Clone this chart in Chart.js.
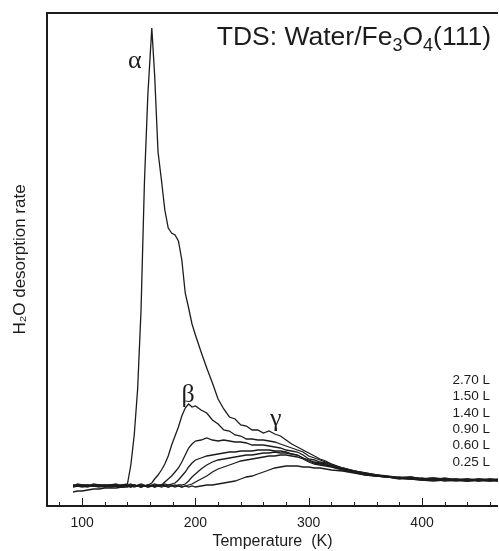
<!DOCTYPE html>
<html>
<head>
<meta charset="utf-8">
<script src="https://cdn.jsdelivr.net/npm/chart.js@4"></script>
<style>
  html, body { margin: 0; padding: 0; background: #fff; }
  canvas { display: block; }
</style>
</head>
<body>
<canvas id="tdsChart" width="499" height="551"></canvas>
<script>
// temperature grid (K), shared by all traces
const temps = [92, 96, 100, 105, 110, 115, 120, 125, 130, 135,
    140, 143, 146, 149, 152, 155, 158, 161.5,
    164, 167, 170, 173, 176, 179, 182, 185, 188, 191, 194, 197, 200,
    205, 210, 215, 220, 225, 230, 235, 240, 245, 250, 255, 260, 265, 270, 275, 280, 285, 290, 295, 300, 305, 310, 315, 320,
    330, 340, 350, 360, 370, 380, 390, 400, 410, 420, 430, 440, 450, 460, 467];

// desorption rate (arb. units), one array per trace, highest dose first
const trace1 = [20, 21, 20, 21, 20, 21, 20, 21, 20, 21,
    22, 41, 71, 117, 196, 324, 411, 478,
    431, 354, 326, 296, 278, 273, 271, 265, 246, 213, 198, 182, 171,
    154, 138, 123, 107, 97, 89, 87, 81, 80, 76, 76, 73, 75, 72, 70, 66, 62, 59, 56, 53, 50, 47, 45, 42,
    38, 35, 33, 31, 30, 28, 29, 27, 28, 26, 27, 26, 27, 26, 27];
const trace2 = [21, 20, 21, 21, 20, 21, 21, 20, 21, 20,
    21, 20, 21, 20, 21, 20, 21, 23,
    27, 31, 36, 42, 50, 61, 70, 79, 90, 98, 102, 99, 100,
    96, 93, 86, 82, 76, 75, 71, 70, 67, 67, 66, 66, 65, 64, 62, 60, 58, 56, 54, 50, 48, 46, 44, 42,
    38, 35, 33, 31, 29, 29, 28, 27, 28, 27, 26, 27, 26, 27, 26];
const trace3 = [19, 20, 19, 20, 20, 19, 20, 19, 20, 19,
    20, 19, 20, 20, 19, 20, 19, 20,
    20, 21, 21, 24, 27, 30, 34, 38, 44, 51, 58, 62, 65,
    66, 68, 66, 65, 66, 65, 64, 64, 63, 61, 61, 61, 60, 59, 58, 56, 55, 54, 51, 47, 46, 44, 43, 41,
    37, 35, 32, 30, 29, 28, 29, 27, 26, 28, 26, 27, 25, 27, 26];
const trace4 = [20, 22, 21, 20, 22, 21, 20, 21, 22, 20,
    21, 22, 20, 21, 22, 21, 20, 21,
    22, 21, 20, 22, 21, 22, 23, 26, 30, 34, 39, 43, 46,
    48, 50, 51, 52, 53, 54, 54, 55, 55, 55, 56, 56, 56, 55, 55, 54, 52, 51, 48, 46, 44, 43, 42, 40,
    37, 34, 32, 30, 29, 28, 27, 28, 26, 27, 26, 25, 27, 26, 25];
const trace5 = [21, 20, 21, 20, 21, 20, 21, 21, 20, 21,
    20, 21, 21, 20, 21, 20, 21, 20,
    21, 20, 21, 20, 21, 21, 20, 21, 21, 22, 25, 29, 32,
    37, 41, 44, 46, 47, 48, 49, 50, 51, 51, 52, 53, 53, 54, 53, 53, 52, 51, 48, 45, 43, 42, 41, 40,
    37, 34, 32, 31, 29, 28, 27, 26, 27, 26, 27, 25, 26, 25, 26];
const trace6 = [19, 21, 20, 19, 21, 20, 19, 20, 21, 19,
    20, 19, 21, 20, 19, 20, 21, 20,
    19, 20, 21, 20, 19, 20, 21, 20, 19, 20, 21, 22, 24,
    27, 30, 34, 37, 39, 41, 43, 45, 46, 47, 48, 49, 50, 50, 51, 51, 50, 49, 47, 44, 42, 41, 40, 39,
    36, 34, 31, 30, 29, 27, 28, 26, 25, 26, 25, 26, 25, 26, 25];
const trace7 = [14, 15, 15, 16, 17, 17, 18, 18, 18, 19,
    19, 20, 19, 20, 19, 20, 19, 20,
    19, 20, 19, 20, 19, 20, 19, 20, 19, 20, 19, 20, 19,
    20, 21, 21, 22, 23, 24, 25, 27, 29, 30, 32, 34, 36, 38, 39, 40, 40, 40, 39, 39, 38, 38, 37, 36,
    35, 33, 31, 30, 29, 28, 27, 26, 27, 25, 26, 25, 26, 25, 26];

const doses = ['2.70 L', '1.50 L', '1.40 L', '0.90 L', '0.60 L', '0.25 L'];
const tempTicks = [80, 100, 120, 140, 160, 180, 200, 220, 240, 260, 280, 300, 320, 340, 360, 380, 400, 420, 440, 460];

const ink = '#1c1c1c';
const sans = '"Liberation Sans", Arial, Helvetica, sans-serif';
const serif = '"Liberation Serif", "Times New Roman", serif';

function makeSet(values) {
    return {
        data: temps.map((t, i) => ({ x: t, y: values[i] })),
        borderColor: ink,
        borderWidth: 1.3,
        pointRadius: 0,
        fill: false,
        tension: 0
    };
}

// draws a string made of normal and subscript parts, right aligned
function drawParts(ctx, parts, xRight, y, size) {
    let total = 0;
    parts.forEach(p => {
        ctx.font = (p[1] ? Math.round(size * 0.68) : size) + 'px ' + sans;
        total += ctx.measureText(p[0]).width;
    });
    let x = xRight - total;
    parts.forEach(p => {
        ctx.font = (p[1] ? Math.round(size * 0.68) : size) + 'px ' + sans;
        ctx.fillText(p[0], x, p[1] ? y + 6 : y);
        x += ctx.measureText(p[0]).width;
    });
}

// frame top line, inward ticks and the text inside the plot
const decorations = {
    id: 'decorations',
    afterDraw(chart) {
        const ctx = chart.ctx;
        const area = chart.chartArea;
        const xs = chart.scales.x;
        const ys = chart.scales.y;
        ctx.save();
        ctx.strokeStyle = ink;
        ctx.lineWidth = 2;
        ctx.beginPath();
        ctx.moveTo(area.left - 1, area.top);
        ctx.lineTo(area.right, area.top);
        ctx.stroke();

        ctx.lineWidth = 1;
        tempTicks.forEach(v => {
            const px = Math.round(xs.getPixelForValue(v)) + 0.5;
            const len = v % 100 === 0 ? 8 : 4;
            ctx.beginPath();
            ctx.moveTo(px, area.bottom - 1);
            ctx.lineTo(px, area.bottom - len);
            ctx.stroke();
        });

        ctx.fillStyle = ink;
        ctx.textBaseline = 'alphabetic';
        drawParts(ctx, [['TDS: Water/Fe', false], ['3', true], ['O', false], ['4', true], ['(111)', false]], 491, 45, 26.5);

        ctx.font = '26px ' + serif;
        ctx.textAlign = 'center';
        ctx.fillText('α', xs.getPixelForValue(146.5), ys.getPixelForValue(438));
        ctx.fillText('β', xs.getPixelForValue(193.5), ys.getPixelForValue(104));
        ctx.fillText('γ', xs.getPixelForValue(271), ys.getPixelForValue(80));

        ctx.font = '13.5px ' + sans;
        ctx.textAlign = 'right';
        ctx.textBaseline = 'middle';
        doses.forEach((d, i) => {
            ctx.fillText(d, 490, 380 + i * 16.4);
        });
        ctx.restore();
    }
};

const chart = new Chart(document.getElementById('tdsChart'), {
    type: 'line',
    data: {
        datasets: [trace1, trace2, trace3, trace4, trace5, trace6, trace7].map(makeSet)
    },
    options: {
        responsive: false,
        animation: false,
        layout: { padding: { top: 13, left: 0, right: 0, bottom: 0 } },
        plugins: {
            legend: { display: false },
            tooltip: { enabled: false }
        },
        scales: {
            x: {
                type: 'linear',
                min: 69,
                max: 467,
                afterBuildTicks: scale => { scale.ticks = tempTicks.map(v => ({ value: v })); },
                afterFit: scale => { scale.height = 45; },
                grid: { display: false, drawTicks: false },
                border: { display: true, color: ink, width: 2 },
                ticks: {
                    autoSkip: false,
                    maxRotation: 0,
                    padding: 9,
                    color: ink,
                    font: { family: sans, size: 14 },
                    callback: v => (v % 100 === 0 ? String(v) : '')
                },
                title: {
                    display: true,
                    text: 'Temperature  (K)',
                    color: ink,
                    font: { family: sans, size: 16 },
                    padding: { top: 0, bottom: 0 }
                }
            },
            y: {
                min: 0,
                max: 493,
                afterFit: scale => { scale.width = 47; },
                grid: { display: false, drawTicks: false },
                border: { display: true, color: ink, width: 2 },
                ticks: { display: false },
                title: {
                    display: true,
                    text: 'H₂O desorption rate',
                    color: ink,
                    font: { family: sans, size: 17 },
                    padding: { top: 10, bottom: 0 }
                }
            }
        }
    },
    plugins: [decorations]
});
</script>
</body>
</html>
